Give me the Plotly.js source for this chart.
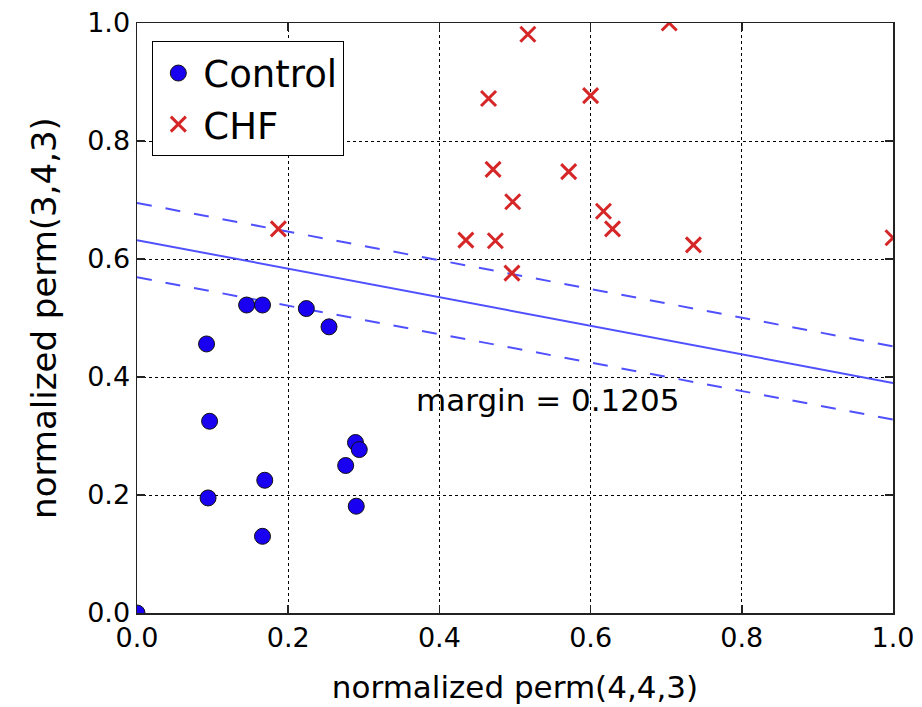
<!DOCTYPE html>
<html>
<head>
<meta charset="utf-8">
<script src="https://cdn.plot.ly/plotly-3.0.1.min.js"></script>
<style>html,body{margin:0;padding:0;background:#fff;}#chart{width:922px;height:707px;}</style>
</head>
<body>
<div id="chart"></div>
<script>
const controlX = [0.145, 0.166, 0.224, 0.254, 0.092, 0.096, 0.289, 0.294, 0.276, 0.169, 0.094, 0.290, 0.166, 0.0];
const controlY = [0.522, 0.522, 0.516, 0.485, 0.456, 0.325, 0.289, 0.277, 0.250, 0.225, 0.195, 0.181, 0.130, 0.0];
const chfX = [0.517, 0.704, 0.465, 0.600, 0.471, 0.571, 0.497, 0.617, 0.629, 0.435, 0.474, 0.736, 0.496, 0.187, 1.0];
const chfY = [0.981, 1.0, 0.872, 0.877, 0.752, 0.748, 0.697, 0.681, 0.651, 0.632, 0.631, 0.624, 0.576, 0.651, 0.636];
const lineX = [0, 1];
const boundaryY = [0.632, 0.390];
const upperY = [0.695, 0.452];
const lowerY = [0.569, 0.328];
const marginText = "margin = 0.1205";
const marginPos = [0.367, 0.361];
const tickVals = [0, 0.2, 0.4, 0.6, 0.8, 1.0];

const lineColor = 'rgb(80,80,255)';
const traces = [
  {x: lineX, y: boundaryY, mode: 'lines', line: {color: lineColor, width: 2}, showlegend: false, hoverinfo: 'skip'},
  {x: lineX, y: upperY, mode: 'lines', line: {color: lineColor, width: 2, dash: '15px,14px'}, showlegend: false, hoverinfo: 'skip'},
  {x: lineX, y: lowerY, mode: 'lines', line: {color: lineColor, width: 2, dash: '15px,14px'}, showlegend: false, hoverinfo: 'skip'},
  {x: controlX, y: controlY, mode: 'markers', name: 'Control',
   marker: {symbol: 'circle', size: 16, color: '#1a00f0', line: {color: '#111', width: 1}}},
  {x: chfX, y: chfY, mode: 'markers', name: 'CHF',
   marker: {symbol: 'x-thin-open', size: 15, color: '#d62728', line: {color: '#d62728', width: 3}}}
];

const axisCommon = {
  range: [0, 1], tickvals: tickVals, tickformat: '.1f',
  showgrid: true, gridcolor: '#000', griddash: 'dot', gridwidth: 1,
  ticks: 'inside', ticklen: 8, tickwidth: 1.5, tickcolor: '#222',
  showline: true, linecolor: '#222', linewidth: 1.5, mirror: 'allticks',
  zeroline: false, tickfont: {family: 'DejaVu Sans', size: 27, color: '#000'}
};

const layout = {
  width: 922, height: 707,
  margin: {l: 137, r: 29, t: 23, b: 94},
  paper_bgcolor: '#fff', plot_bgcolor: '#fff',
  font: {family: 'DejaVu Sans', color: '#000'},
  xaxis: Object.assign({}, axisCommon, {
    title: {text: 'normalized perm(4,4,3)', font: {size: 31}, standoff: 24}
  }),
  yaxis: Object.assign({}, axisCommon, {
    title: {text: 'normalized perm(3,4,3)', font: {size: 34}, standoff: 20}
  }),
  legend: {x: 0.02, y: 0.969, xanchor: 'left', yanchor: 'top',
    bgcolor: '#fff', bordercolor: '#000', borderwidth: 1.2,
    font: {family: 'DejaVu Sans', size: 37, color: '#000'}, itemwidth: 40, tracegroupgap: 0},
  annotations: [{x: marginPos[0], y: marginPos[1], xref: 'x', yref: 'y', xanchor: 'left', text: marginText,
    showarrow: false, font: {family: 'DejaVu Sans', size: 31, color: '#000'}}],
  showlegend: true
};

Plotly.newPlot('chart', traces, layout, {displayModeBar: false, staticPlot: true});
</script>
</body>
</html>
